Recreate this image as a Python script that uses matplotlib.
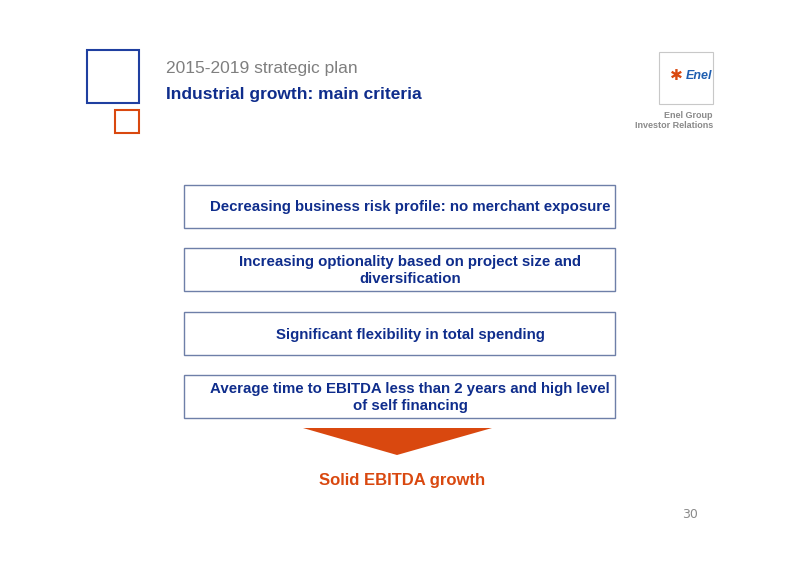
import matplotlib
matplotlib.use("Agg")
import matplotlib.pyplot as plt
from matplotlib.patches import Rectangle, Polygon

plt.rcParams["font.family"] = ["Liberation Sans", "DejaVu Sans"]

NAVY = "#0F2D8C"
ORANGE = "#D9480F"
GRAY = "#8A8A8A"

subtitle = "2015-2019 strategic plan"
title = "Industrial growth: main criteria"
criteria = [
    "Decreasing business risk profile: no merchant exposure",
    "Increasing optionality based on project size and\ndiversification",
    "Significant flexibility in total spending",
    "Average time to EBITDA less than 2 years and high level\nof self financing",
]
conclusion = "Solid EBITDA growth"
page_no = "30"

fig = plt.figure(figsize=(8, 5.65), dpi=100)
ax = fig.add_axes([0, 0, 1, 1])
ax.set_xlim(0, 800)
ax.set_ylim(565, 0)
ax.axis("off")

# corner squares
ax.add_patch(Rectangle((87, 50), 52, 53, fill=False, ec="#1F3FA0", lw=1.5))
ax.add_patch(Rectangle((115, 110), 24, 23, fill=False, ec=ORANGE, lw=1.5))

ax.text(166, 68, subtitle, fontsize=12.5, color="#7F7F7F", va="center")
ax.text(166, 95, title, fontsize=12.5, color=NAVY, weight="bold", va="center")

# logo
ax.add_patch(Rectangle((659, 52), 54, 52, fill=False, ec="#C8C8C8", lw=0.8))
ax.text(686, 76, "Enel", fontsize=9, color="#1F5FB0", weight="bold",
        style="italic", ha="left", va="center")
ax.text(676, 76, "✱", fontsize=11, color=ORANGE, ha="center", va="center",
        family=["DejaVu Sans"])
ax.text(713, 115, "Enel Group", fontsize=6.5, color=GRAY, weight="bold",
        ha="right", va="center")
ax.text(713, 126, "Investor Relations", fontsize=6.5, color=GRAY,
        weight="bold", ha="right", va="center")

# criteria boxes
box_x, box_w, box_h = 184, 431, 43
box_top = [185, 248, 312, 375]
for top, txt in zip(box_top, criteria):
    ax.add_patch(Rectangle((box_x, top), box_w, box_h, fill=False,
                           ec="#6E7FA8", lw=1))
    ax.text(410, top + box_h / 2 + 1, txt, fontsize=10.8,
            color=NAVY, weight="bold", ha="center", va="center",
            linespacing=1.3)

# arrow
ax.add_patch(Polygon([(303, 428), (492, 428), (397, 455)], closed=True,
                     fc=ORANGE, ec="none"))
ax.text(402, 481, conclusion, fontsize=12, color=ORANGE, weight="bold",
        ha="center", va="center")

ax.text(690, 514, page_no, fontsize=9, color=GRAY, ha="center", va="center",
        family=["DejaVu Sans"])

fig.savefig("out.png", dpi=100)
